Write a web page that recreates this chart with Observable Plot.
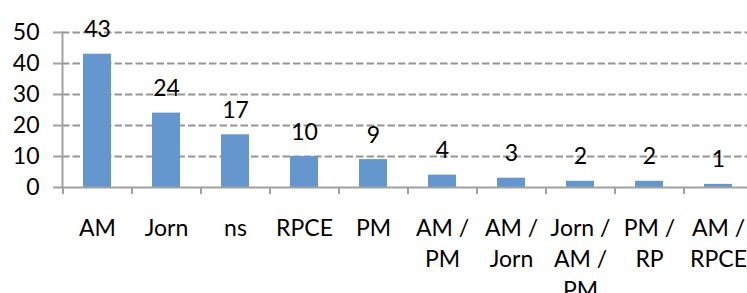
<!DOCTYPE html>
<html>
<head>
<meta charset="utf-8">
<script src="https://cdn.jsdelivr.net/npm/d3@7"></script>
<script src="https://cdn.jsdelivr.net/npm/@observablehq/plot@0.6"></script>
<style>
  html, body { margin: 0; padding: 0; background: #fff; }
  svg { display: block; }
</style>
</head>
<body>
<div id="chart"></div>
<script>
const categories = ["AM", "Jorn", "ns", "RPCE", "PM", "AM / PM", "AM / Jorn", "Jorn / AM / PM", "PM / RP", "AM / RPCE"];
const counts = [43, 24, 17, 10, 9, 4, 3, 2, 2, 1];
const yTicks = [0, 10, 20, 30, 40, 50];

const data = categories.map((c, i) => ({category: c, count: counts[i]}));
const font = "Lato, 'Open Sans', sans-serif";
const step = 69;

const chart = Plot.plot({
  width: 747,
  height: 293,
  marginLeft: 62,
  marginTop: 32,
  marginBottom: 106,
  marginRight: 0,
  style: {fontFamily: font, fontSize: "23px", color: "#000", background: "#fff", overflow: "hidden"},
  x: {domain: categories, range: [62, 752], paddingInner: 0.6, paddingOuter: 0.3, label: null},
  y: {domain: [0, 50], label: null},
  marks: [
    Plot.gridY(yTicks.filter(d => d > 0), {stroke: "#969696", strokeOpacity: 1, strokeWidth: 2, strokeDasharray: "7.5,3"}),
    Plot.barY(data, {x: "category", y: "count", fill: "#6497cd"}),
    Plot.ruleY([0], {stroke: "#a0a0a0", strokeWidth: 2}),
    Plot.frame({anchor: "left", stroke: "#a0a0a0", strokeWidth: 2}),
    Plot.axisY({ticks: yTicks, tickSize: 9, tickPadding: 14, stroke: "#a0a0a0", strokeWidth: 2, fontSize: 23, fill: "#000"}),
    Plot.axisX({tickSize: 7, tickFormat: null, dx: -step / 2, stroke: "#a0a0a0", strokeWidth: 2}),
    Plot.axisX({tickSize: 0, tickPadding: 26, fontSize: 23, fill: "#000", lineHeight: 1.35,
      tickFormat: d => d.replace(/ \/ /g, " /\n")}),
    Plot.text(data, {x: "category", y: "count", text: d => String(d.count), lineAnchor: "bottom", dy: -17, fontSize: 23, fill: "#000"})
  ]
});
document.getElementById("chart").appendChild(chart);
</script>
</body>
</html>
